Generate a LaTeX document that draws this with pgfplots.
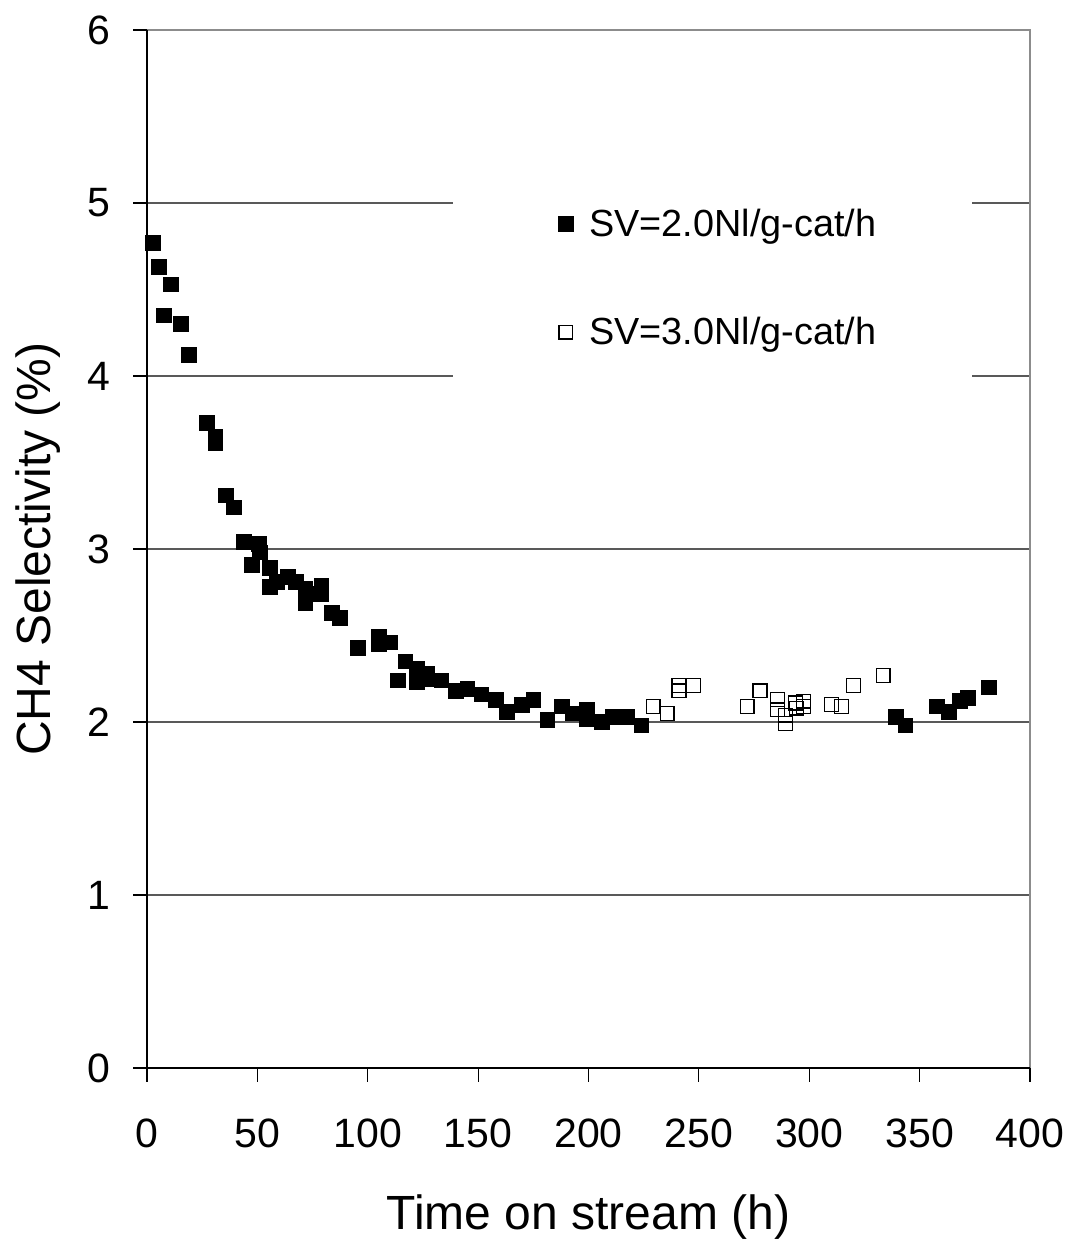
\documentclass[border=0pt]{standalone}
\usepackage{fontspec}
\setmainfont{Liberation Sans}
\usepackage{pgfplots}
\pgfplotsset{compat=1.18}

\definecolor{gridgray}{rgb}{0.35,0.35,0.35}
\definecolor{framegray}{rgb}{0.55,0.55,0.55}

\begin{document}
\begin{tikzpicture}
\begin{axis}[
    scale only axis,
    width=441.5pt, height=519pt,
    xmin=0, xmax=400, ymin=0, ymax=6,
    xtick={0,50,...,400}, ytick={0,1,...,6},
    axis x line*=bottom, axis y line*=left,
    axis line style={black, line width=0.65pt},
    tick align=outside, major tick length=6.75pt,
    tick style={black, line width=0.55pt},
    ymajorgrids, grid style={gridgray, line width=0.6pt},
    /pgf/number format/assume math mode=true,
    tick label style={font=\fontsize{20.5}{24}\selectfont},
    yticklabel style={inner sep=0pt, xshift=-11.25pt},
    xticklabel style={inner sep=0pt, yshift=-18.25pt},
    xlabel={Time on stream (h)},
    ylabel={CH4 Selectivity (\%)},
    label style={font=\fontsize{24}{28}\selectfont},
    xlabel style={at={(axis description cs:0.5,-0.15607)}, anchor=base},
    ylabel style={at={(axis description cs:-0.10985,0.5)}, anchor=base, rotate=0},
    clip=false,
    legend image code/.code={\draw[#1] plot coordinates {(0pt,0pt)};},
    legend style={at={(rel axis cs:0.4655,0.8280)}, anchor=north west,
        draw=none, fill=none, inner sep=0pt, column sep=8.1pt, row sep=38.8pt,
        nodes={inner sep=0pt}, font=\fontsize{18.9}{22}\selectfont},
    legend cell align=left,
]
\fill[white] (axis cs:138.4,3.93) rectangle (axis cs:373.7,5.1);
\draw[framegray, line width=1pt] (rel axis cs:0,1) -- (rel axis cs:1,1) -- (rel axis cs:1,0);

% SV = 2.0 Nl/g-cat/h
\addplot[only marks, mark=square*, mark size=3.7pt,
    mark options={fill=black, draw=black, line width=0.4pt}] coordinates {
    (2.7,4.77) (5.4,4.63) (7.7,4.35) (10.9,4.53) (15.4,4.30) (19.0,4.12)
    (27.0,3.73) (31.0,3.65) (31.0,3.61) (35.6,3.31) (39.2,3.24) (43.8,3.04)
    (47.4,2.91) (50.7,3.03) (51.0,2.98) (55.6,2.89) (55.6,2.78) (59.0,2.81)
    (63.7,2.84) (67.3,2.81) (71.8,2.77) (71.8,2.69) (75.0,2.74) (79.0,2.79)
    (79.0,2.74) (83.6,2.63) (87.4,2.60) (95.4,2.43) (105.2,2.49) (105.2,2.45)
    (110.0,2.46) (113.5,2.24) (117.1,2.35) (122.4,2.31) (122.4,2.23) (127.0,2.28)
    (127.0,2.25) (133.4,2.24) (140.0,2.18) (145.1,2.19) (151.5,2.16) (158.0,2.13)
    (163.2,2.06) (169.7,2.10) (175.0,2.13) (181.4,2.01) (187.8,2.09) (193.0,2.05)
    (199.4,2.07) (199.4,2.02) (205.9,2.00) (211.2,2.03) (217.3,2.03) (224.0,1.98)
    (339.3,2.03) (343.6,1.98) (358.0,2.09) (363.3,2.06) (368.3,2.12) (371.7,2.14)
    (381.5,2.20)
};
\addlegendentry{SV=2.0Nl/g-cat/h}

% SV = 3.0 Nl/g-cat/h
\addplot[only marks, mark=square, mark size=3.45pt,
    mark options={draw=black, fill=white, line width=0.65pt}] coordinates {
    (229.3,2.09) (235.6,2.05) (241.0,2.21) (241.0,2.18) (247.5,2.21)
    (271.9,2.09) (277.7,2.18) (285.6,2.13) (285.6,2.07) (289.3,2.04)
    (289.3,1.99) (293.8,2.11) (294.2,2.08) (297.5,2.12) (297.5,2.09)
    (310.0,2.10) (314.7,2.09) (320.0,2.21) (333.5,2.27)
};
\addlegendentry{SV=3.0Nl/g-cat/h}

\draw[black, line width=0.65pt] (rel axis cs:0,0) -- (rel axis cs:1,0);
\draw[black, line width=0.65pt] (rel axis cs:0,0) -- (rel axis cs:0,1);
\end{axis}
\pgfresetboundingbox
\path[use as bounding box] (-73.5pt,-85.5pt) rectangle (462.5pt,534pt);
\end{tikzpicture}
\end{document}
